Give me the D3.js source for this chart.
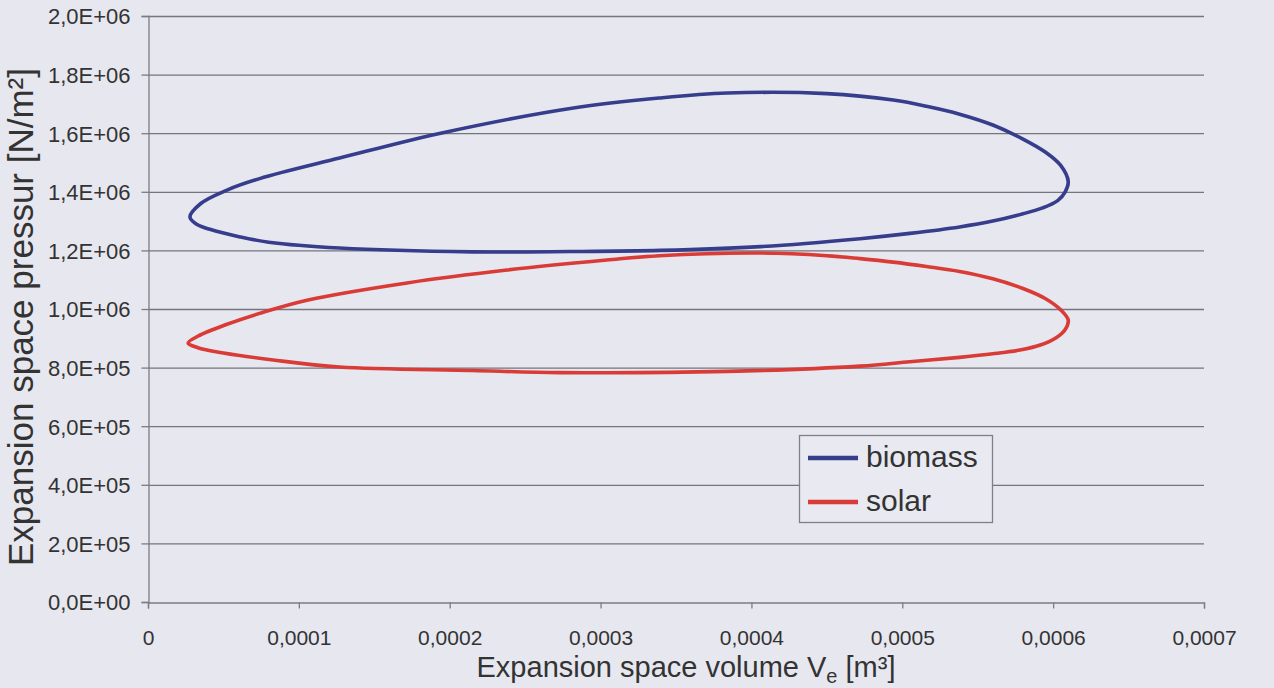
<!DOCTYPE html>
<html><head><meta charset="utf-8">
<script src="https://cdn.jsdelivr.net/npm/d3@7"></script>
<style>
html,body{margin:0;padding:0;background:#e7e7ef;}
svg{display:block;font-family:"Liberation Sans",Arial,sans-serif;}
</style></head>
<body>
<svg id="c" width="1274" height="688"></svg>
<script>
// Expansion space volume [m3] and pressure [N/m2], closed p-V loops
const biomassV = [2.78e-5,3.5e-5,5.2e-5,7.4e-5,1.27e-4,1.94e-4,2.82e-4,3.39e-4,3.84e-4,4.50e-4,4.94e-4,5.16e-4,5.38e-4,5.60e-4,5.80e-4,5.95e-4,6.05e-4,6.10e-4,
                  6.08e-4,6.03e-4,5.93e-4,5.80e-4,5.60e-4,5.38e-4,5.05e-4,4.72e-4,4.06e-4,3.40e-4,2.80e-4,2.15e-4,1.27e-4,8.0e-5,6.1e-5,4.1e-5,3.2e-5];
const biomassP = [1.314e6,1.36e6,1.405e6,1.445e6,1.515e6,1.60e6,1.686e6,1.72e6,1.737e6,1.735e6,1.713e6,1.692e6,1.665e6,1.628e6,1.58e6,1.535e6,1.49e6,1.435e6,
                  1.40e6,1.37e6,1.345e6,1.325e6,1.30e6,1.28e6,1.258e6,1.24e6,1.213e6,1.200e6,1.196e6,1.195e6,1.208e6,1.228e6,1.246e6,1.272e6,1.29e6];
const solarV = [2.66e-5,3.3e-5,5.24e-5,7.4e-5,1.054e-4,1.717e-4,2.38e-4,3.04e-4,3.39e-4,4.06e-4,4.50e-4,4.72e-4,4.94e-4,5.16e-4,5.38e-4,5.60e-4,5.80e-4,5.95e-4,6.05e-4,6.10e-4,
                6.08e-4,6.02e-4,5.92e-4,5.78e-4,5.60e-4,5.38e-4,5.05e-4,4.72e-4,3.84e-4,2.73e-4,2.15e-4,1.27e-4,8.3e-5,5.0e-5,3.3e-5];
const solarP = [0.884e6,0.907e6,0.948e6,0.985e6,1.03e6,1.089e6,1.133e6,1.167e6,1.182e6,1.191e6,1.182e6,1.172e6,1.16e6,1.145e6,1.128e6,1.103e6,1.07e6,1.035e6,0.997e6,0.962e6,
                0.93e6,0.902e6,0.878e6,0.86e6,0.847e6,0.835e6,0.82e6,0.805e6,0.787e6,0.783e6,0.79e6,0.802e6,0.826e6,0.85e6,0.868e6];
const xTicks = [0,0.0001,0.0002,0.0003,0.0004,0.0005,0.0006,0.0007];
const xTickLabels = ["0","0,0001","0,0002","0,0003","0,0004","0,0005","0,0006","0,0007"];
const yTicks = [0,2e5,4e5,6e5,8e5,1e6,1.2e6,1.4e6,1.6e6,1.8e6,2e6];
const yTickLabels = ["0,0E+00","2,0E+05","4,0E+05","6,0E+05","8,0E+05","1,0E+06","1,2E+06","1,4E+06","1,6E+06","1,8E+06","2,0E+06"];
const seriesNames = ["biomass","solar"];
const seriesColors = ["#363d8c","#d93b36"];

const svg = d3.select("#c");
const L=148,R=1204,T=16,B=602;
const x = d3.scaleLinear().domain([0,0.0007]).range([L,R]);
const y = d3.scaleLinear().domain([0,2e6]).range([B,T]);

// gridlines
svg.append("g").selectAll("line").data(yTicks.slice(1)).join("line")
  .attr("x1",L).attr("x2",R).attr("y1",d=>y(d)+0.5).attr("y2",d=>y(d)+0.5)
  .attr("stroke","#75757d").attr("stroke-width",1.3);

// axes
const xa = svg.append("g").attr("transform",`translate(0,${B+0.5})`)
  .call(d3.axisBottom(x).tickValues(xTicks).tickFormat((d,i)=>xTickLabels[i]).tickSizeOuter(0).tickSize(6).tickPadding(22));
const ya = svg.append("g").attr("transform",`translate(${L+0.5},0)`)
  .call(d3.axisLeft(y).tickValues(yTicks).tickFormat((d,i)=>yTickLabels[i]).tickSizeOuter(0).tickSize(7).tickPadding(11));
[xa,ya].forEach(a=>{
  a.selectAll("path,line").attr("stroke","#7c7c84").attr("stroke-width",1.3);
  a.selectAll("text").attr("fill","#333").style("font-family","'Liberation Sans',Arial,sans-serif");
});
xa.selectAll("text").style("font-size","21px");
ya.selectAll("text").style("font-size","22px").attr("dy","0.36em");

// loops
const line = d3.line().x(d=>x(d[0])).y(d=>y(d[1])).curve(d3.curveCatmullRomClosed.alpha(0.5));
const data = [d3.zip(biomassV,biomassP), d3.zip(solarV,solarP)];
data.forEach((pts,i)=>{
  svg.append("path").attr("d",line(pts)).attr("fill","none")
    .attr("stroke",seriesColors[i]).attr("stroke-width",3.6).attr("stroke-linejoin","round");
});

// axis titles
svg.append("text").attr("transform","translate(33,317) rotate(-90)").attr("text-anchor","middle")
  .style("font-size","35px").attr("fill","#333").text("Expansion space pressur [N/m²]");
const xt = svg.append("text").attr("x",686).attr("y",677).attr("text-anchor","middle")
  .style("font-size","29px").attr("fill","#333");
xt.append("tspan").text("Expansion space volume V");
xt.append("tspan").attr("dy",6).style("font-size","20px").text("e");
xt.append("tspan").attr("dy",-6).text(" [m³]");

// legend
const lg = svg.append("g");
lg.append("rect").attr("x",799.5).attr("y",435.5).attr("width",193).attr("height",87)
  .attr("fill","#e9e9f1").attr("stroke","#808088").attr("stroke-width",1.3);
seriesNames.forEach((n,i)=>{
  const yy = 458 + i*44;
  lg.append("line").attr("x1",808).attr("x2",858).attr("y1",yy).attr("y2",yy)
    .attr("stroke",seriesColors[i]).attr("stroke-width",4.5);
  lg.append("text").attr("x",866).attr("y",yy+9).style("font-size","30px")
    .attr("fill","#333").text(n);
});
</script>
</body></html>
